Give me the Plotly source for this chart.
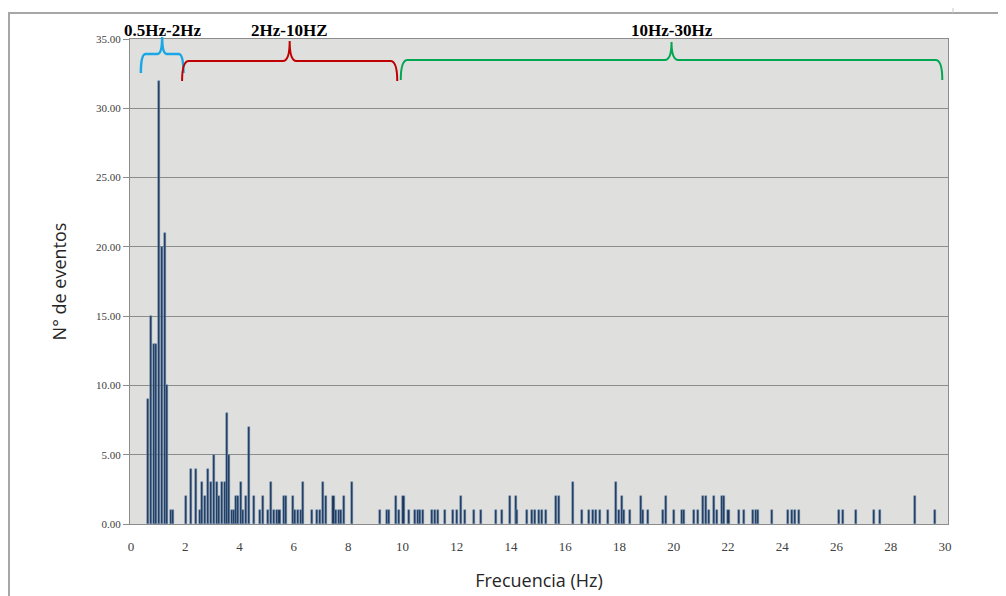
import plotly.graph_objects as go

# Frequency (Hz) of each bar and number of events
freq_hz = [0.64, 0.74, 0.83, 0.92, 1.04, 1.14, 1.24, 1.34, 1.47, 1.55,
           2.02, 2.21, 2.40, 2.54, 2.63, 2.72, 2.83, 2.94, 3.05, 3.16,
           3.24, 3.34, 3.46, 3.55, 3.62, 3.71, 3.81, 3.87, 3.94, 4.04,
           4.14, 4.24, 4.34, 4.54, 4.75, 4.85, 5.06, 5.16, 5.25, 5.37,
           5.47, 5.64, 5.70, 5.95, 6.05, 6.15, 6.25, 6.35, 6.66, 6.84,
           6.97, 7.07, 7.18, 7.46, 7.56, 7.65, 7.74, 7.84, 8.16,
           9.18, 9.42, 9.51, 9.77, 9.86, 10.04, 10.26, 10.46, 10.56, 10.66,
           10.75, 11.08, 11.20, 11.32, 11.57, 11.86, 12.00, 12.16, 12.29, 12.65,
           12.89, 13.45, 13.66, 13.97, 14.18, 14.24, 14.58, 14.77, 14.90, 15.02,
           15.14, 15.29, 15.67, 15.78, 16.29,
           16.61, 16.89, 17.02, 17.15, 17.29, 17.59, 17.88, 17.98, 18.09, 18.17,
           18.39, 18.79, 18.86, 19.07, 19.60, 19.71, 20.01, 20.30, 20.39, 20.76,
           20.89, 21.09, 21.19, 21.29, 21.49, 21.59, 21.77, 21.86, 22.02, 22.42,
           22.60, 22.91, 23.02, 23.12, 23.62,
           24.23, 24.35, 24.47, 24.63, 26.11, 26.23, 26.72, 27.40, 27.61, 28.90,
           29.63]
n_eventos = [9, 15, 13, 13, 32, 20, 21, 10, 1, 1,
             2, 4, 4, 1, 3, 2, 4, 3, 5, 3,
             2, 3, 3, 8, 5, 1, 1, 2, 2, 3,
             1, 2, 7, 2, 1, 2, 1, 3, 1, 1,
             1, 2, 2, 2, 1, 1, 1, 3, 1, 1,
             1, 3, 2, 2, 1, 1, 1, 2, 3,
             1, 1, 1, 2, 1, 2, 1, 1, 1, 1,
             1, 1, 1, 1, 1, 1, 1, 2, 1, 1,
             1, 1, 1, 2, 2, 1, 1, 1, 1, 1,
             1, 1, 2, 2, 3,
             1, 1, 1, 1, 1, 1, 3, 1, 2, 1,
             1, 2, 1, 1, 1, 2, 1, 1, 1, 1,
             1, 2, 2, 1, 2, 1, 2, 2, 1, 1,
             1, 1, 1, 1, 1,
             1, 1, 1, 1, 1, 1, 1, 1, 1, 2,
             1]

# Frequency bands (label, brace start, brace end, colour)
band_labels = ["0.5Hz-2Hz", "2Hz-10HZ", "10Hz-30Hz"]
band_start = [0.36, 1.88, 9.94]
band_end = [1.93, 9.81, 29.9]
band_colors = ["#1aa7e6", "#c00000", "#00a651"]

y_ticks = [0, 5, 10, 15, 20, 25, 30, 35]
x_ticks = list(range(0, 31, 2))

# the page body has an 8px margin, so the figure starts at page (8, 8)
OFF = 8
W, H = 1006 - OFF, 596 - OFF
L, R, T, B = 130 - OFF, 58, 39 - OFF, 80 - OFF
plot_h = H - T - B
plot_w = W - L - R


def py(pix):
    """page pixel row -> paper y"""
    return (H - B - (pix - OFF)) / plot_h


def px(pix):
    """page pixel column -> paper x"""
    return ((pix - OFF) - L) / plot_w


fig = go.Figure()
fig.add_trace(go.Bar(
    x=freq_hz, y=n_eventos, width=0.075,
    marker=dict(color="#1c3557", line=dict(color="#6f90bb", width=0.5)),
    showlegend=False,
))

shapes = []
annotations = []
brace_geom = [(73, 54, 37, 0.18, 2.5), (81, 61, 41, 0.25, 2), (80, 60, 42, 0.25, 2)]
for lab, x0, x1, col, (ytip, yh, ypk, dx, lw) in zip(band_labels, band_start, band_end, band_colors, brace_geom):
    xm = (x0 + x1) / 2
    a, b, c = py(ytip), py(yh), py(ypk)
    path = (f"M {x0},{a} Q {x0},{b} {x0 + dx},{b} L {xm - dx},{b} "
            f"Q {xm},{b} {xm},{c} Q {xm},{b} {xm + dx},{b} "
            f"L {x1 - dx},{b} Q {x1},{b} {x1},{a}")
    shapes.append(dict(type="path", xref="x", yref="paper", path=path,
                       line=dict(color=col, width=lw), layer="above"))
    annotations.append(dict(x=xm, y=py(30), xref="x", yref="paper", text=f"<b>{lab}</b>",
                            showarrow=False, xanchor="center", yanchor="middle",
                            font=dict(family="Liberation Serif", size=17, color="#000000")))

# outer frame of the sheet
shapes.append(dict(type="line", xref="paper", yref="paper", x0=px(9), x1=px(9), y0=py(13), y1=py(600),
                   line=dict(color="#a6a6a6", width=2)))
shapes.append(dict(type="line", xref="paper", yref="paper", x0=px(8), x1=px(1010), y0=py(13), y1=py(13),
                   line=dict(color="#a6a6a6", width=2)))
shapes.append(dict(type="line", xref="paper", yref="paper", x0=px(953), x1=px(953), y0=py(8), y1=py(13),
                   line=dict(color="#c8c8c8", width=1)))

fig.update_layout(
    width=W, height=H,
    margin=dict(l=L, r=R, t=T, b=B, autoexpand=False),
    paper_bgcolor="white",
    plot_bgcolor="#dfdfdd",
    shapes=shapes,
    annotations=annotations,
    bargap=0,
)
fig.update_xaxes(
    range=[-0.04, 30.11], tickvals=x_ticks, ticktext=[str(v) for v in x_ticks],
    showgrid=False, zeroline=False, showline=True, linecolor="#8c8c8c", linewidth=1, mirror=True,
    ticks="", ticklabelstandoff=10,
    tickfont=dict(family="Liberation Serif", size=13, color="#404040"),
    title=dict(text="Frecuencia (Hz)", standoff=21,
               font=dict(family="Open Sans", size=18, color="#262626")),
)
fig.update_yaxes(
    range=[0, 35], tickvals=y_ticks, ticktext=[f"{v:.2f}" for v in y_ticks],
    showgrid=True, gridcolor="#8c8c8c", gridwidth=1, zeroline=False,
    showline=True, linecolor="#8c8c8c", linewidth=1, mirror=True,
    ticks="outside", ticklen=6, tickcolor="#8c8c8c",
    tickfont=dict(family="Liberation Serif", size=11, color="#404040"),
    title=dict(text="N° de eventos", standoff=24,
               font=dict(family="Open Sans", size=18, color="#262626")),
)

fig.write_html("out.html")
